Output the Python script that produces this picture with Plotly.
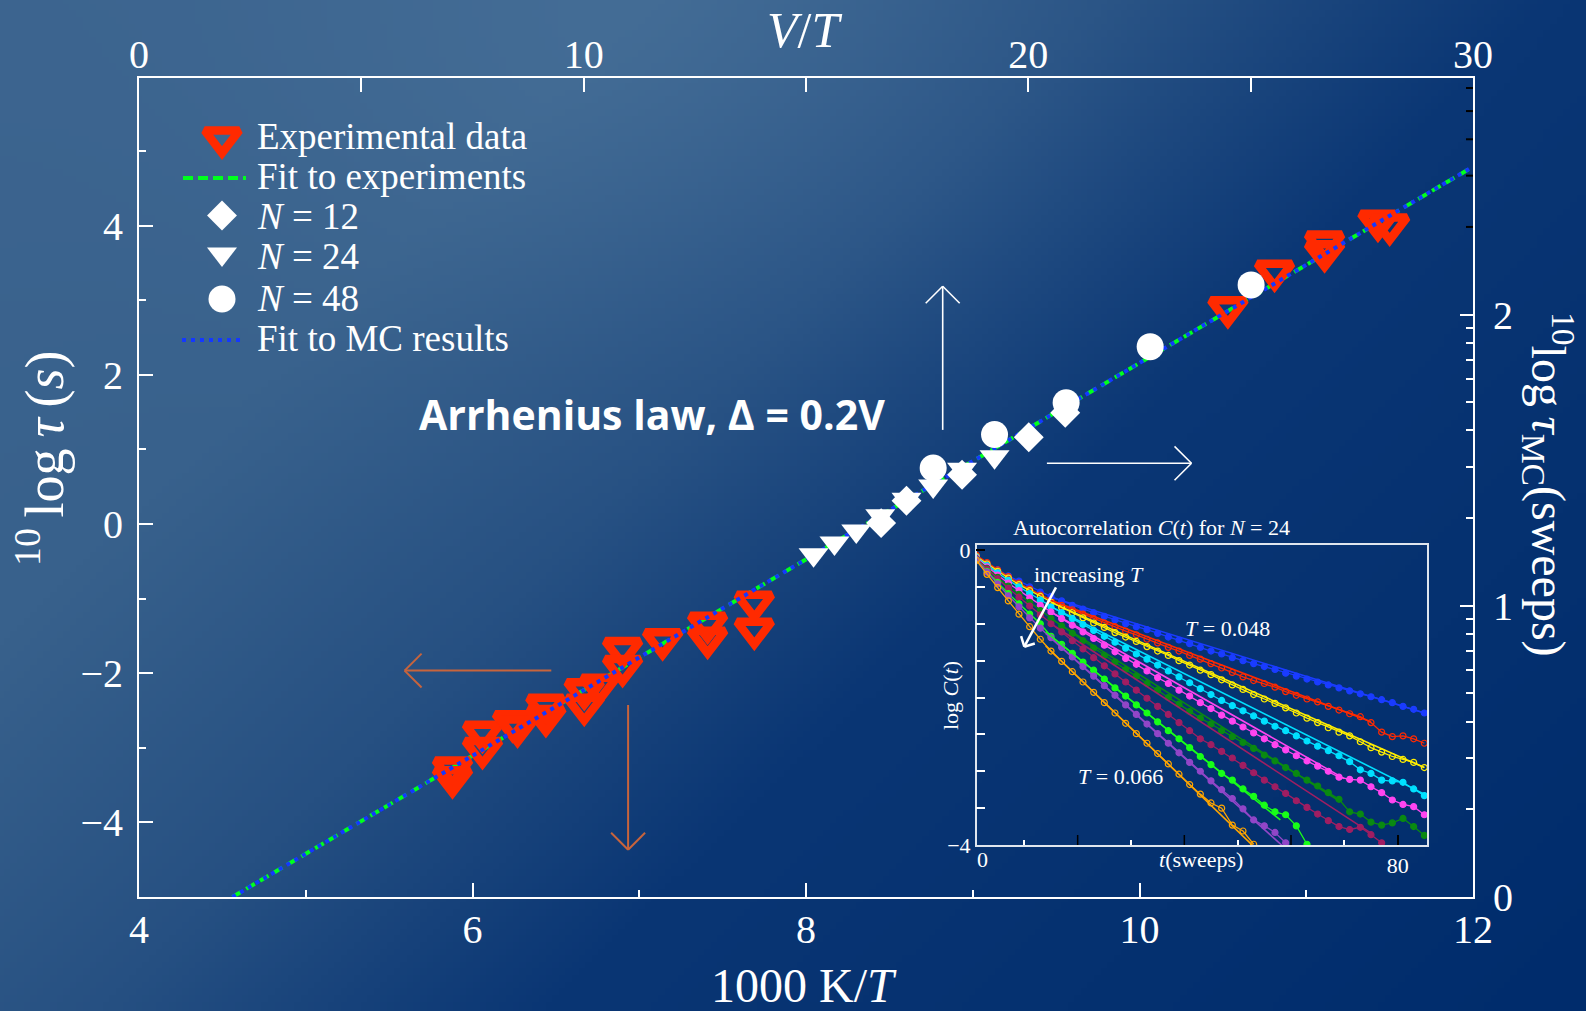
import base64
import struct
import zlib

import numpy as np
import plotly.graph_objects as go

# ---------------------------------------------------------------------------
# Main panel, bottom/left axes: experiments, 1000 K / T  vs  log10 tau (s)
# ---------------------------------------------------------------------------
EXP_INV_T = [5.88, 5.88, 6.06, 6.06, 6.24, 6.27, 6.44, 6.44, 6.67, 6.76, 6.67,
             6.90, 6.90, 7.14, 7.41, 7.41, 7.69, 7.69,
             10.53, 10.81, 11.11, 11.11, 11.43, 11.50]
EXP_LOG_TAU = [-3.27, -3.40, -2.79, -3.01, -2.65, -2.72, -2.43, -2.58, -2.22, -2.16, -2.43,
               -1.67, -1.91, -1.55, -1.33, -1.53, -1.05, -1.41,
               2.90, 3.39, 3.78, 3.65, 4.06, 4.01]
FIT_EXP_INV_T = [4.56, 12.0]
FIT_EXP_LOG_TAU = [-5.0, 4.79]

# ---------------------------------------------------------------------------
# Main panel, top/right axes: Monte Carlo, V / T  vs  log10 tau_MC (sweeps)
# ---------------------------------------------------------------------------
N12_V_OVER_T = [16.69, 17.26, 18.51, 20.01, 20.83]
N12_LOG_TAU_MC = [1.284, 1.361, 1.450, 1.579, 1.663]
N24_V_OVER_T = [15.17, 15.64, 16.13, 16.67, 17.26, 17.86, 18.51, 19.24]
N24_LOG_TAU_MC = [1.175, 1.216, 1.257, 1.309, 1.366, 1.411, 1.469, 1.512]
N48_V_OVER_T = [17.86, 19.24, 20.85, 22.74, 25.01]
N48_LOG_TAU_MC = [1.473, 1.588, 1.697, 1.890, 2.102]
FIT_MC_V_OVER_T = [2.10, 30.0]
FIT_MC_LOG_TAU = [0.0, 2.508]

# ---------------------------------------------------------------------------
# Inset: autocorrelation log C(t) for N = 24, from T = 0.048 (blue) up to T = 0.066 (orange)
# ---------------------------------------------------------------------------
T_SWEEPS = list(range(1, 86, 2))
LOGC_BLUE = [-0.08, -0.18, -0.27, -0.35, -0.42, -0.50, -0.57, -0.63, -0.69, -0.75,
             -0.80, -0.85, -0.90, -0.95, -1.00, -1.04, -1.08, -1.13, -1.18, -1.22,
             -1.27, -1.32, -1.37, -1.41, -1.46, -1.50, -1.54, -1.58, -1.62, -1.67,
             -1.71, -1.75, -1.79, -1.83, -1.87, -1.91, -1.95, -1.99, -2.03, -2.07,
             -2.12, -2.16, -2.21]
LOGC_RED = [-0.07, -0.17, -0.27, -0.36, -0.45, -0.53, -0.61, -0.68, -0.75, -0.81,
            -0.87, -0.93, -0.99, -1.04, -1.10, -1.15, -1.21, -1.26, -1.32, -1.37,
            -1.43, -1.48, -1.54, -1.60, -1.66, -1.72, -1.77, -1.81, -1.86, -1.92,
            -1.97, -2.02, -2.06, -2.12, -2.17, -2.22, -2.26, -2.34, -2.47, -2.53,
            -2.52, -2.56, -2.62]
LOGC_YELLOW = [-0.09, -0.19, -0.29, -0.38, -0.47, -0.55, -0.63, -0.71, -0.78, -0.85,
               -0.92, -0.99, -1.05, -1.12, -1.18, -1.24, -1.31, -1.37, -1.43, -1.50,
               -1.56, -1.63, -1.69, -1.76, -1.83, -1.89, -1.96, -2.02, -2.08, -2.14,
               -2.21, -2.28, -2.34, -2.41, -2.47, -2.52, -2.60, -2.68, -2.74, -2.80,
               -2.84, -2.88, -2.95]
LOGC_CYAN = [-0.10, -0.21, -0.31, -0.41, -0.50, -0.59, -0.68, -0.77, -0.85, -0.93,
             -1.01, -1.09, -1.17, -1.25, -1.33, -1.41, -1.48, -1.56, -1.64, -1.72,
             -1.80, -1.88, -1.96, -2.04, -2.11, -2.18, -2.25, -2.32, -2.39, -2.45,
             -2.52, -2.59, -2.66, -2.72, -2.79, -2.87, -2.98, -3.03, -3.12, -3.13,
             -3.15, -3.24, -3.33]
LOGC_MAGENTA = [-0.11, -0.23, -0.34, -0.45, -0.55, -0.65, -0.75, -0.84, -0.93, -1.02,
                -1.11, -1.20, -1.29, -1.38, -1.47, -1.55, -1.64, -1.73, -1.81, -1.90,
                -1.98, -2.07, -2.15, -2.24, -2.32, -2.40, -2.48, -2.56, -2.64, -2.71,
                -2.79, -2.86, -2.93, -3.00, -3.08, -3.11, -3.12, -3.21, -3.29, -3.39,
                -3.45, -3.48, -3.59]
LOGC_DARKGREEN = [-0.12, -0.25, -0.37, -0.49, -0.60, -0.71, -0.82, -0.93, -1.03, -1.13,
                  -1.23, -1.33, -1.43, -1.52, -1.62, -1.71, -1.81, -1.90, -2.00, -2.09,
                  -2.19, -2.28, -2.36, -2.45, -2.53, -2.61, -2.69, -2.78, -2.86, -2.95,
                  -3.03, -3.12, -3.20, -3.29, -3.38, -3.55, -3.58, -3.69, -3.73, -3.70,
                  -3.64, -3.75, -3.87]
LOGC_MAROON = [-0.12, -0.26, -0.39, -0.52, -0.64, -0.76, -0.88, -1.00, -1.11, -1.23,
               -1.34, -1.46, -1.57, -1.68, -1.79, -1.90, -2.01, -2.12, -2.23, -2.34,
               -2.45, -2.56, -2.64, -2.73, -2.82, -2.92, -3.02, -3.12, -3.21, -3.30,
               -3.40, -3.49, -3.58, -3.67, -3.75, -3.79, -3.76, -3.86, -3.97]
LOGC_GREEN = [-0.13, -0.29, -0.44, -0.59, -0.73, -0.87, -1.00, -1.17, -1.28, -1.40,
              -1.52, -1.63, -1.75, -1.87, -1.98, -2.10, -2.21, -2.33, -2.45, -2.56,
              -2.68, -2.80, -2.91, -3.03, -3.12, -3.24, -3.34, -3.46, -3.55, -3.59,
              -3.74, -3.99]
LOGC_PURPLE = [-0.13, -0.30, -0.46, -0.62, -0.77, -0.92, -1.06, -1.19, -1.32, -1.45,
               -1.58, -1.71, -1.84, -1.97, -2.10, -2.23, -2.36, -2.49, -2.62, -2.75,
               -2.88, -3.00, -3.13, -3.25, -3.37, -3.51, -3.66, -3.74, -3.83, -3.97]
LOGC_ORANGE = [-0.14, -0.33, -0.51, -0.69, -0.87, -1.04, -1.21, -1.37, -1.51, -1.65,
               -1.79, -1.93, -2.07, -2.21, -2.35, -2.49, -2.62, -2.76, -2.90, -3.04,
               -3.18, -3.31, -3.43, -3.50, -3.73, -3.81, -3.99]

INSET_SERIES = [LOGC_BLUE, LOGC_RED, LOGC_YELLOW, LOGC_CYAN, LOGC_MAGENTA,
                LOGC_DARKGREEN, LOGC_MAROON, LOGC_GREEN, LOGC_PURPLE, LOGC_ORANGE]
INSET_COLORS = ["#1a3cff", "#ff2a00", "#ffee00", "#00e0ff", "#ff45f0",
                "#0a8a12", "#a01e62", "#18ff18", "#9146c8", "#ffa500"]
INSET_OPEN = [False, True, True, False, False, False, False, False, False, True]

# straight-line fits of log C(t): start and end of each fitted segment
FIT_T_START = [15, 15, 15, 15, 15, 15, 15, 14, 14, 14]
FIT_C_START = [-0.64, -0.68, -0.71, -0.77, -0.84, -0.93, -1.00, -1.11, -1.13, -1.30]
FIT_T_END = [85, 75, 85, 85, 70, 69, 75, 58, 59, 53]
FIT_C_END = [-2.21, -2.33, -2.95, -3.31, -3.10, -3.40, -3.84, -3.66, -4.05, -4.02]

# ---------------------------------------------------------------------------
# Canvas geometry (pixels) and helpers
# ---------------------------------------------------------------------------
W, H = 1586, 1011
ML, MR, MT, MB = 139, 113, 78, 114
PW, PH = W - ML - MR, H - MT - MB


def px(x):
    return (x - ML) / PW


def py(y):
    return (H - MB - y) / PH


SERIF = "Liberation Serif, DejaVu Serif, serif"
WHITE = "#ffffff"
RED = "#ff2a00"
GREEN = "#00ff1e"
BLUE = "#1438ff"
RUST = "#c8643c"

INSET_X0, INSET_X1 = 976.7, 1427.0
INSET_Y0, INSET_Y1 = 544.7, 845.0


# ---------------------------------------------------------------------------
# Background gradient rendered into a small PNG and stretched over the canvas
# ---------------------------------------------------------------------------
def gradient_png(gw=240, gh=153):
    xs = (np.arange(gw) + 0.5) / gw * W
    ys = (np.arange(gh) + 0.5) / gh * H
    xx, yy = np.meshgrid(xs, ys)
    s = (xx + yy) / (W + H)
    stops = [0.0, 0.25, 0.43, 0.60, 1.0]
    cols = np.array([[60, 100, 143], [56, 97, 140], [38, 80, 130], [10, 54, 116], [0, 44, 108]], float)
    rgb = np.stack([np.interp(s, stops, cols[:, k]) for k in range(3)], axis=-1)
    glow = np.exp(-(((xx - 700) / 430) ** 2 + ((yy - 40) / 320) ** 2))
    rgb = rgb + glow[..., None] * np.array([12.0, 12.0, 10.0])
    rgb = np.clip(rgb, 0, 255).astype(np.uint8)
    raw = b"".join(b"\x00" + rgb[r].tobytes() for r in range(gh))

    def chunk(tag, data):
        body = tag + data
        return struct.pack(">I", len(data)) + body + struct.pack(">I", zlib.crc32(body) & 0xFFFFFFFF)

    png = (b"\x89PNG\r\n\x1a\n"
           + chunk(b"IHDR", struct.pack(">IIBBBBB", gw, gh, 8, 2, 0, 0, 0))
           + chunk(b"IDAT", zlib.compress(raw, 9))
           + chunk(b"IEND", b""))
    return "data:image/png;base64," + base64.b64encode(png).decode()


fig = go.Figure()

RED_MARKER = dict(symbol="triangle-down-open", size=30, color=RED, line=dict(color=RED, width=8.5))

# ---------------- main panel traces ----------------
fig.add_trace(go.Scatter(x=FIT_MC_V_OVER_T, y=FIT_MC_LOG_TAU, xaxis="x2", yaxis="y2",
                         mode="lines", line=dict(color=BLUE, width=4, dash="4px,5px"),
                         hoverinfo="skip"))
fig.add_trace(go.Scatter(x=FIT_EXP_INV_T, y=FIT_EXP_LOG_TAU, xaxis="x", yaxis="y",
                         mode="lines", line=dict(color=GREEN, width=4, dash="10px,6px")))
fig.add_trace(go.Scatter(x=EXP_INV_T, y=EXP_LOG_TAU, xaxis="x", yaxis="y", mode="markers",
                         marker=RED_MARKER))
fig.add_trace(go.Scatter(x=N24_V_OVER_T, y=N24_LOG_TAU_MC, xaxis="x2", yaxis="y2", mode="markers",
                         marker=dict(symbol="triangle-down", size=26, color=WHITE, line=dict(width=0))))
fig.add_trace(go.Scatter(x=N12_V_OVER_T, y=N12_LOG_TAU_MC, xaxis="x2", yaxis="y2", mode="markers",
                         marker=dict(symbol="diamond", size=23, color=WHITE, line=dict(width=0))))
fig.add_trace(go.Scatter(x=N48_V_OVER_T, y=N48_LOG_TAU_MC, xaxis="x2", yaxis="y2", mode="markers",
                         marker=dict(symbol="circle", size=27, color=WHITE, line=dict(width=0))))

# ---------------- inset traces ----------------
for vals, col, is_open in zip(INSET_SERIES, INSET_COLORS, INSET_OPEN):
    fig.add_trace(go.Scatter(
        x=T_SWEEPS[:len(vals)], y=vals, xaxis="x3", yaxis="y3", mode="lines+markers",
        line=dict(color=col, width=1.3),
        marker=dict(symbol="circle-open" if is_open else "circle", size=6, color=col,
                    line=dict(color=col, width=1.2))))
for k, col in enumerate(INSET_COLORS):
    fig.add_trace(go.Scatter(
        x=[FIT_T_START[k], FIT_T_END[k]], y=[FIT_C_START[k], FIT_C_END[k]],
        xaxis="x3", yaxis="y3", mode="lines", line=dict(color=col, width=1.6)))

# ---------------- legend keys (overlay axis in plot-fraction units) ----------------
KEY_X = px(222)
fig.add_trace(go.Scatter(x=[KEY_X], y=[py(138)], xaxis="x4", yaxis="y4", mode="markers",
                         marker=RED_MARKER))
fig.add_trace(go.Scatter(x=[px(183), px(246)], y=[py(178), py(178)], xaxis="x4", yaxis="y4",
                         mode="lines", line=dict(color=GREEN, width=4, dash="10px,5px")))
fig.add_trace(go.Scatter(x=[KEY_X], y=[py(215.5)], xaxis="x4", yaxis="y4", mode="markers",
                         marker=dict(symbol="diamond", size=23, color=WHITE, line=dict(width=0))))
fig.add_trace(go.Scatter(x=[KEY_X], y=[py(254)], xaxis="x4", yaxis="y4", mode="markers",
                         marker=dict(symbol="triangle-down", size=26, color=WHITE, line=dict(width=0))))
fig.add_trace(go.Scatter(x=[KEY_X], y=[py(299)], xaxis="x4", yaxis="y4", mode="markers",
                         marker=dict(symbol="circle", size=27, color=WHITE, line=dict(width=0))))
fig.add_trace(go.Scatter(x=[px(182), px(243)], y=[py(340), py(340)], xaxis="x4", yaxis="y4",
                         mode="lines", line=dict(color=BLUE, width=4, dash="4px,5px")))

# ---------------- arrows ----------------
shapes = []


def arrow(x0, y0, x1, y1, color, width, head):
    dx, dy = x1 - x0, y1 - y0
    n = (dx * dx + dy * dy) ** 0.5
    ux, uy = -dx / n, -dy / n
    c = s = 0.70710678
    segs = [(x0, y0, x1, y1)]
    for sg in (1, -1):
        ax = ux * c - uy * s * sg
        ay = ux * s * sg + uy * c
        segs.append((x1, y1, x1 + ax * head, y1 + ay * head))
    for a, b, cc, d in segs:
        shapes.append(dict(type="line", xref="paper", yref="paper",
                           x0=px(a), y0=py(b), x1=px(cc), y1=py(d),
                           line=dict(color=color, width=width)))


arrow(942.7, 429.9, 942.7, 286.3, WHITE, 1.6, 24)
arrow(1046.9, 463.3, 1191.5, 463.3, WHITE, 1.6, 24)
arrow(551.3, 670.6, 404.6, 670.6, RUST, 2, 24)
arrow(628.1, 705.0, 628.1, 849.7, RUST, 2, 24)
arrow(1056.0, 587.3, 1024.3, 646.7, WHITE, 2.5, 11)

# dark minor ticks on the right axis above 10^2 sweeps
for v in (200, 300, 400, 500, 600):
    shapes.append(dict(type="line", xref="paper", yref="y2",
                       x0=1.0, x1=1.0 - 7 / PW, y0=np.log10(v), y1=np.log10(v),
                       line=dict(color="#000000", width=2)))

# dark major ticks of the inset time axis (the 80 tick comes with its label)
for tv in (20, 40, 60):
    shapes.append(dict(type="line", xref="x3", yref="paper",
                       x0=tv, x1=tv, y0=py(INSET_Y1), y1=py(INSET_Y1 - 10),
                       line=dict(color="#000000", width=1.5)))

# ---------------- texts ----------------
ann = []


def text(x, y, s, size, family=SERIF, angle=0, xanchor="center"):
    ann.append(dict(x=px(x), y=py(y), xref="paper", yref="paper", text=s, showarrow=False,
                    textangle=angle, xanchor=xanchor, yanchor="middle",
                    font=dict(family=family, size=size, color=WHITE)))


LEG_X = 255
LEG_SIZE = 37
text(LEG_X, 136.7, "Experimental data", LEG_SIZE, xanchor="left")
text(LEG_X, 176.7, "Fit to experiments", LEG_SIZE, xanchor="left")
text(LEG_X, 216.7, "<i>N</i> = 12", LEG_SIZE, xanchor="left")
text(LEG_X, 256.7, "<i>N</i> = 24", LEG_SIZE, xanchor="left")
text(LEG_X, 298.3, "<i>N</i> = 48", LEG_SIZE, xanchor="left")
text(LEG_X, 338.3, "Fit to MC results", LEG_SIZE, xanchor="left")

text(652, 414, "<b>Arrhenius law, Δ = 0.2V</b>", 41, family="Open Sans, Noto Sans, sans-serif")

text(804, 985, "1000 K/<i>T</i>", 48)
text(804, 30, "<i>V</i>/<i>T</i>", 50)
text(40, 458, "<sup>10</sup>\u2009log\u2009<i>τ</i>\u2009(<i>s</i>)", 54, angle=-90)
text(1549, 484, "<sup>10</sup>log\u2009<i>τ</i><sub>MC</sub>(sweeps)", 48, angle=90)

# inset labels
INSET_TXT = 22
text(1151, 527, "Autocorrelation <i>C</i>(<i>t</i>) for <i>N</i> = 24", INSET_TXT)
text(950, 696, "log <i>C</i>(<i>t</i>)", INSET_TXT, angle=-90)
text(1201, 859, "<i>t</i>(sweeps)", INSET_TXT)
text(982.7, 859, "0", INSET_TXT)
text(1089, 574, "increasing <i>T</i>", INSET_TXT)
text(1227, 628, "<i>T</i> = 0.048", INSET_TXT)
text(1120, 776, "<i>T</i> = 0.066", INSET_TXT)

# ---------------- axes ----------------
tickfont = dict(family=SERIF, size=40, color=WHITE)
axis_common = dict(showgrid=False, zeroline=False, showline=True, linecolor=WHITE, linewidth=2,
                   ticks="inside", tickcolor=WHITE, tickwidth=2, tickfont=tickfont)

LOG_MINOR = [np.log10(v) for v in (2, 3, 4, 5, 6, 7, 8, 9, 20, 30, 40, 50, 60, 70, 80, 90)]

inset_axis = dict(showgrid=False, zeroline=False, showline=True, mirror=True,
                  linecolor="#dfe6ee", linewidth=1.5, ticks="inside", tickcolor="#000000",
                  tickwidth=1.5, tickfont=dict(family=SERIF, size=INSET_TXT, color=WHITE))

fig.update_layout(
    width=W, height=H,
    margin=dict(l=ML, r=MR, t=MT, b=MB, pad=0),
    paper_bgcolor="#1d4a80",
    plot_bgcolor="rgba(0,0,0,0)",
    showlegend=False,
    images=[dict(source=gradient_png(), xref="paper", yref="paper",
                 x=-ML / PW, y=1 + MT / PH, sizex=W / PW, sizey=H / PH,
                 xanchor="left", yanchor="top", sizing="stretch", layer="below")],
    xaxis=dict(axis_common, range=[4, 12], tickvals=[4, 6, 8, 10, 12], ticklen=14,
               ticklabelstandoff=-4,
               minor=dict(tickvals=[5, 7, 9, 11], ticks="inside", ticklen=7,
                          tickcolor=WHITE, tickwidth=2)),
    yaxis=dict(axis_common, range=[-5, 5.98], tickvals=[-4, -2, 0, 2, 4], ticklen=14,
               ticklabelstandoff=6,
               minor=dict(tickvals=[-5, -3, -1, 1, 3, 5], ticks="inside", ticklen=7,
                          tickcolor=WHITE, tickwidth=2)),
    xaxis2=dict(axis_common, overlaying="x", side="top", anchor="y2", range=[0, 30],
                tickvals=[0, 10, 20, 30], ticklen=14, ticklabelstandoff=-8,
                minor=dict(tickvals=[5, 15, 25], ticks="inside", ticklen=14,
                           tickcolor=WHITE, tickwidth=2)),
    yaxis2=dict(axis_common, overlaying="y", side="right", anchor="x2", range=[0, 2.8125],
                tickvals=[0, 1, 2], ticklen=13, ticklabelstandoff=10,
                minor=dict(tickvals=LOG_MINOR, ticks="inside", ticklen=7,
                           tickcolor=WHITE, tickwidth=2)),
    xaxis3=dict(inset_axis, domain=[px(INSET_X0), px(INSET_X1)], anchor="y3", range=[1.07, 85.5],
                tickvals=[80], ticklen=10,
                minor=dict(tickvals=[10, 30, 50, 70], ticks="inside", ticklen=5,
                           tickcolor=WHITE, tickwidth=1.5)),
    yaxis3=dict(inset_axis, domain=[py(INSET_Y1), py(INSET_Y0)], anchor="x3", range=[-4, 0.072],
                tickvals=[-4, 0], ticklen=9,
                minor=dict(dtick=0.5, tick0=0, ticks="inside", ticklen=9,
                           tickcolor=WHITE, tickwidth=1.5)),
    xaxis4=dict(overlaying="x", range=[0, 1], visible=False, anchor="y4"),
    yaxis4=dict(overlaying="y", range=[0, 1], visible=False, anchor="x4"),
    shapes=shapes,
    annotations=ann,
)

fig.write_html("out.html")
